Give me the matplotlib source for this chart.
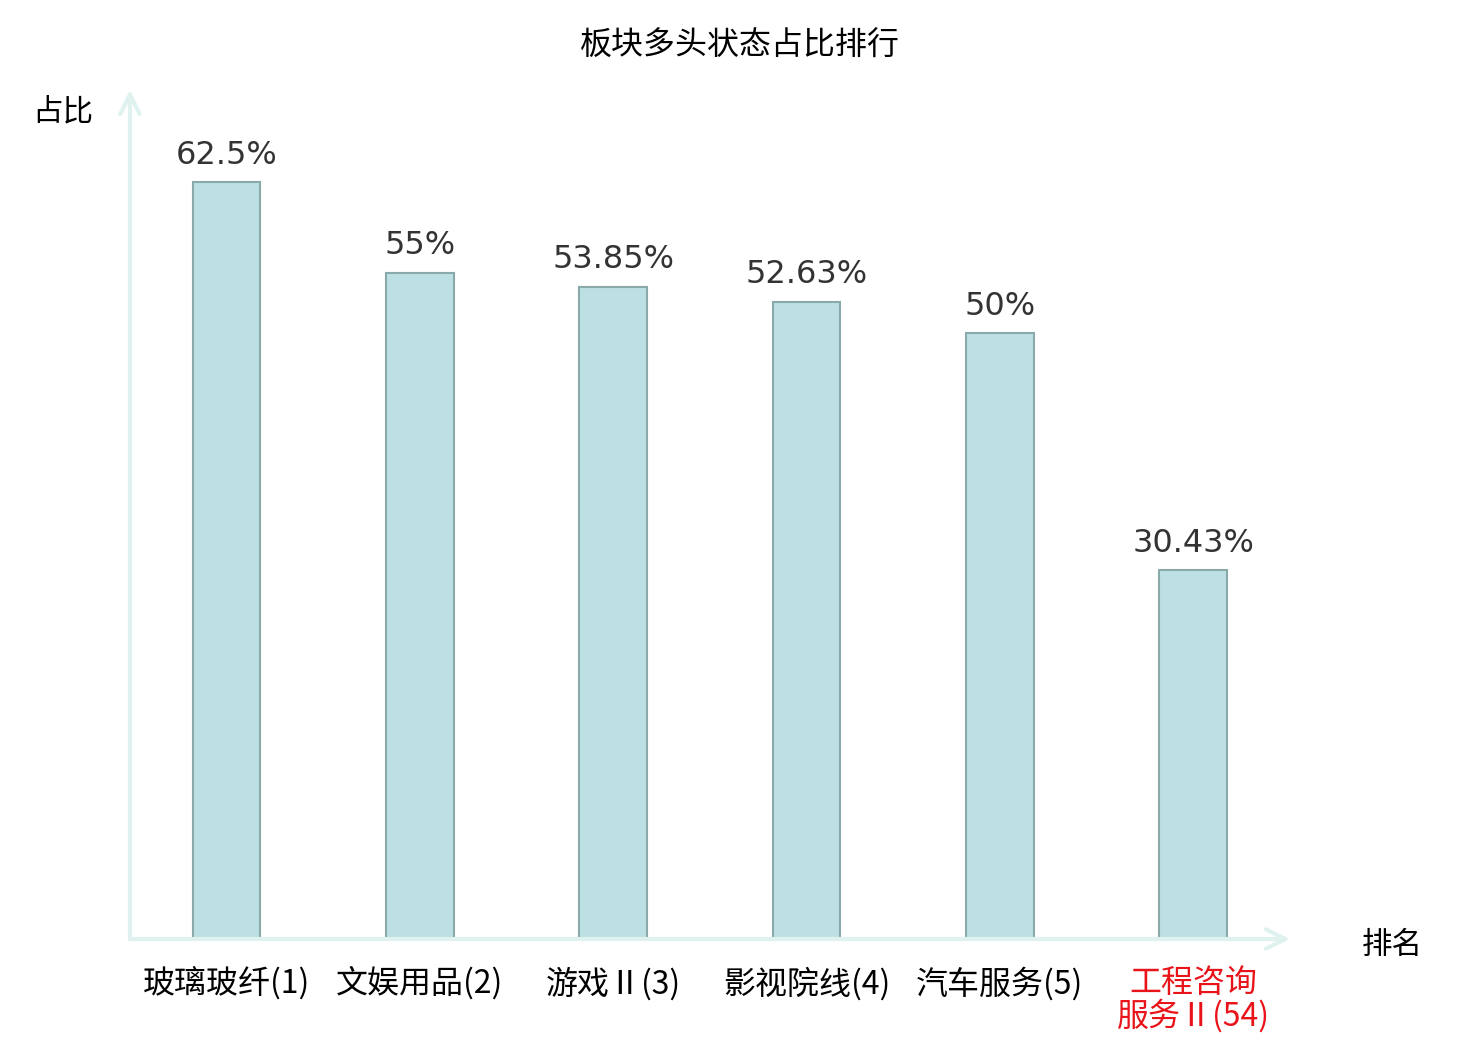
import matplotlib
matplotlib.use("Agg")
import matplotlib.pyplot as plt

plt.rcParams['font.family'] = ['Noto Sans CJK SC', 'DejaVu Sans']

# data
sectors = ['玻璃玻纤(1)', '文娱用品(2)', '游戏Ⅱ(3)', '影视院线(4)', '汽车服务(5)', '工程咨询\n服务Ⅱ(54)']
values = [62.5, 55, 53.85, 52.63, 50, 30.43]
value_labels = ['62.5%', '55%', '53.85%', '52.63%', '50%', '30.43%']
label_colors = ['black', 'black', 'black', 'black', 'black', '#e8141a']

axis_col = '#dff2ef'

fig = plt.figure(figsize=(14.8, 10.4), dpi=100)
ax = fig.add_axes([0.0878, 0.0971, 0.7838, 0.8164])

x = list(range(len(values)))
ax.bar(x, values, width=0.35, color='#bce0e3', edgecolor='#8aa9a9', linewidth=1.5, zorder=3)

for xi, v, t in zip(x, values, value_labels):
    ax.text(xi, v + 0.95, t, ha='center', va='bottom', fontsize=23,
            family='DejaVu Sans', color='#333333')

ax.set_xlim(-0.5, 5.5)
ax.set_ylim(0, 70.1)
for s in ax.spines.values():
    s.set_visible(False)
ax.set_xticks(x)
ax.set_xticklabels(sectors, fontsize=23, linespacing=1.0, fontweight='light')
for lbl, c in zip(ax.get_xticklabels(), label_colors):
    lbl.set_color(c)
ax.tick_params(axis='x', length=0, pad=20)
ax.set_yticks([])

# axes with arrow heads
arrow = dict(arrowstyle='->', color=axis_col, lw=3, mutation_scale=35, shrinkA=0, shrinkB=0)
ax.annotate('', xy=(1.0, 0), xytext=(0, 0), xycoords='axes fraction', arrowprops=arrow, annotation_clip=False)
ax.annotate('', xy=(0, 1.0), xytext=(0, 0), xycoords='axes fraction', arrowprops=arrow, annotation_clip=False)

fig.text(63 / 1480, 1 - 112 / 1040, '占比', ha='center', va='center', fontsize=22, fontweight='light')
fig.text(1392 / 1480, 1 - 945 / 1040, '排名', ha='center', va='center', fontsize=22, fontweight='light')
fig.text(740 / 1480, 1 - 46 / 1040, '板块多头状态占比排行', ha='center', va='center', fontsize=23, fontweight='light')

fig.savefig('out.png', dpi=100)
